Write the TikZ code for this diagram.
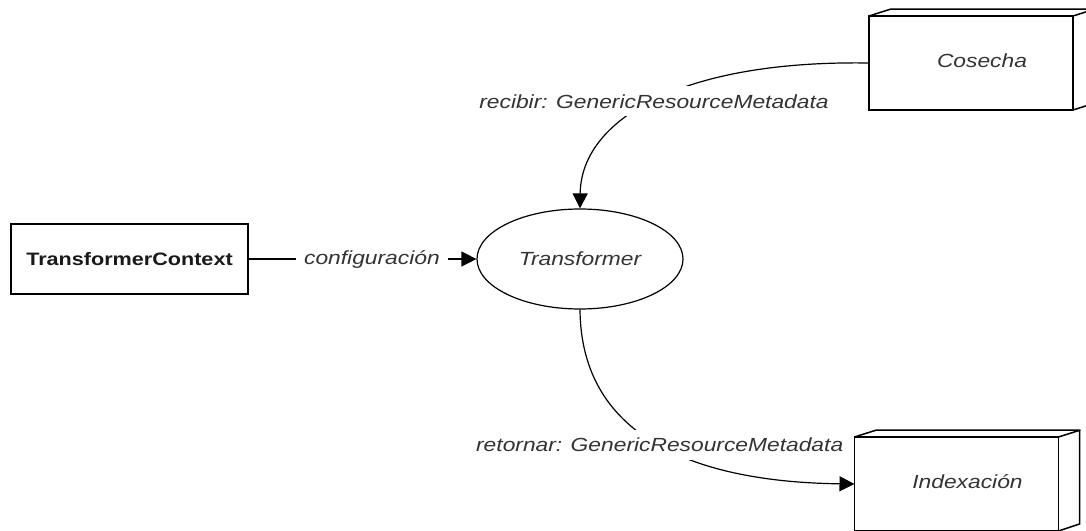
\documentclass[tikz,border=0pt]{standalone}
\usepackage{fontspec}
\setmainfont[FakeStretch=1.2]{Liberation Sans}
\usetikzlibrary{positioning}
\usetikzlibrary{arrows.meta}
\usetikzlibrary{shapes.geometric}

\tikzset{
	lbl/.style={font=\fontsize{19}{22}\selectfont\itshape,text=black!80,fill=white,inner sep=8pt},
	box3d/.style={draw,line width=1.5pt,minimum width=204pt,minimum height=94pt,outer sep=0pt},
	depth3d/.style={line width=1.5pt,line join=miter}
}

\begin{document}
\begin{tikzpicture}[x=1pt,y=-1pt,>={Triangle[length=15pt,width=15pt]},line width=1.2pt]
	\useasboundingbox (0,0) rectangle (1086,530);
	\clip (0,0) rectangle (1086,530);

	\node [draw,line width=2.5pt,minimum width=237pt,minimum height=70pt,font=\fontsize{18}{21}\selectfont\bfseries,text=black!90] at (129.5,259) (ctx) {TransformerContext};
	\node [ellipse,draw,minimum width=206pt,minimum height=100pt,font=\fontsize{19}{22}\selectfont\itshape,text=black!80] at (580,259) (tr) {Transformer};

	\node [box3d,label={[lbl,fill=none,xshift=11pt,yshift=2pt]center:Cosecha}] at (971,63) (cos) {};
	\draw [depth3d] (cos.north west) -- ++(22,-7) -- ++(204,0) -- ++(0,94) -- (cos.south east) (cos.north east) -- ++(22,-7);

	\node [box3d,label={[lbl,fill=none,xshift=11pt,yshift=2pt]center:Indexación}] at (956.5,484) (idx) {};
	\draw [depth3d] (idx.north west) -- ++(22,-7) -- ++(203,0) -- ++(0,94) -- (idx.south east) (idx.north east) -- ++(22,-7);

	% connectors
	\draw [->] (ctx) -- node[lbl,pos=.54] {configuración} (tr);
	\draw [->] (cos.west) .. controls (680,60) and (581,120) .. node[lbl] {recibir: GenericResourceMetadata} (tr.north);
	\draw [->] (tr.south) .. controls (581,440) and (700,482) .. node[lbl] {retornar: GenericResourceMetadata} (idx.west);
\end{tikzpicture}
\end{document}
